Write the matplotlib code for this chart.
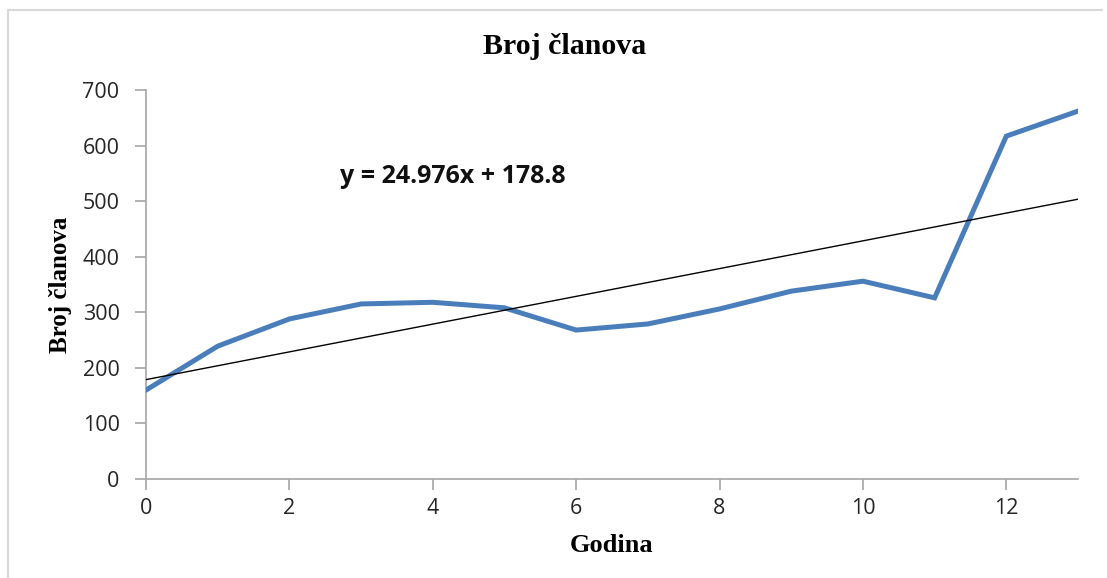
import matplotlib
matplotlib.use("Agg")
import matplotlib.pyplot as plt
from matplotlib.lines import Line2D
import numpy as np

godina = [0, 1, 2, 3, 4, 5, 6, 7, 8, 9, 10, 11, 12, 13]
broj_clanova = [160, 239, 288, 315, 318, 308, 268, 279, 306, 338, 356, 326, 617, 662]
trend_slope = 24.976
trend_intercept = 178.8
x_ticks = [0, 2, 4, 6, 8, 10, 12]
y_ticks = [0, 100, 200, 300, 400, 500, 600, 700]

W, H = 1107, 578
fig = plt.figure(figsize=(W / 100, H / 100), dpi=100)
ax = fig.add_axes([146 / W, 1 - 479 / H, (1078 - 146) / W, (479 - 90) / H])

ax.plot(godina, broj_clanova, color="#4a7ebb", lw=3.6, solid_joinstyle="miter", zorder=3)
xt = np.array([godina[0], godina[-1]])
ax.plot(xt, trend_slope * xt + trend_intercept, color="black", lw=1.0, zorder=4)

ax.set_xlim(0, 13)
ax.set_ylim(0, 700)
ax.set_xticks(x_ticks)
ax.set_yticks(y_ticks)
for s in ["top", "right"]:
    ax.spines[s].set_visible(False)
for s in ["left", "bottom"]:
    ax.spines[s].set_color("#a6a6a6")
    ax.spines[s].set_linewidth(1.2)
ax.tick_params(direction="out", length=8, width=1.2, color="#a6a6a6",
               labelsize=15.5, labelcolor="#262626")
ax.tick_params(axis="y", pad=11)
ax.tick_params(axis="x", pad=6)
for lab in ax.get_xticklabels() + ax.get_yticklabels():
    lab.set_family("Open Sans")

ax.text(2.71, 545, f"y = {trend_slope}x + {trend_intercept}", fontsize=18,
        fontweight="bold", family="Open Sans", va="center", ha="left", color="#111111")

fig.text(565 / W, 1 - 47 / H, "Broj članova", fontsize=21.5, fontweight="bold",
         family="Liberation Serif", ha="center", va="center")
fig.text(612 / W, 1 - 545 / H, "Godina", fontsize=19, fontweight="bold",
         family="Liberation Serif", ha="center", va="center")
fig.text(60 / W, 1 - 285 / H, "Broj članova", fontsize=18, fontweight="bold",
         family="Liberation Serif", ha="center", va="center", rotation=90)

# outer chart-area border (left and top visible)
fig.add_artist(Line2D([8 / W, 8 / W], [0, 1 - 10 / H], transform=fig.transFigure,
                      color="#d9d9d9", lw=1.5))
fig.add_artist(Line2D([8 / W, 1102 / W], [1 - 10 / H, 1 - 10 / H], transform=fig.transFigure,
                      color="#d9d9d9", lw=1.5))

fig.savefig("out.png", dpi=100)
